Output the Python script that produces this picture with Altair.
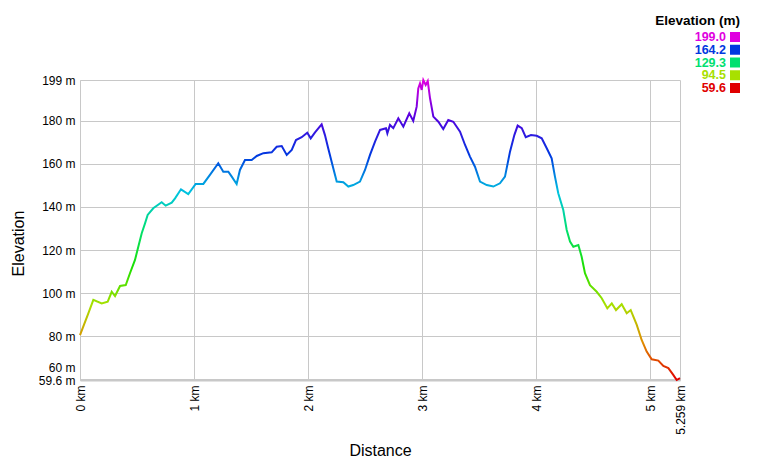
import altair as alt
import pandas as pd

# ---- data ----
distance_km = [0.000, 0.073, 0.117, 0.190, 0.243, 0.278, 0.307, 0.351, 0.401, 0.438,
               0.482, 0.511, 0.541, 0.570, 0.593, 0.642, 0.716, 0.751, 0.804, 0.833,
               0.885, 0.949, 1.014, 1.081, 1.139, 1.212, 1.256, 1.300, 1.330, 1.373,
               1.402, 1.446, 1.505, 1.549, 1.607, 1.680, 1.724, 1.768, 1.812, 1.856,
               1.893, 1.943, 1.992, 2.022, 2.060, 2.118, 2.147, 2.176, 2.220, 2.250,
               2.308, 2.352, 2.395, 2.454, 2.498, 2.542, 2.586, 2.630, 2.682, 2.694,
               2.717, 2.746, 2.790, 2.834, 2.886, 2.921, 2.951, 2.965, 2.980, 2.995,
               3.009, 3.030, 3.048, 3.068, 3.097, 3.141, 3.184, 3.228, 3.272, 3.331,
               3.375, 3.418, 3.462, 3.506, 3.565, 3.623, 3.681, 3.725, 3.769, 3.807,
               3.836, 3.872, 3.907, 3.953, 4.003, 4.047, 4.091, 4.134, 4.163, 4.192,
               4.236, 4.266, 4.295, 4.324, 4.368, 4.397, 4.426, 4.470, 4.529, 4.573,
               4.622, 4.661, 4.698, 4.748, 4.792, 4.827, 4.880, 4.923, 4.967, 5.011,
               5.069, 5.113, 5.157, 5.200, 5.230, 5.259]
elevation_m = [80.5, 90.6, 96.8, 95.2, 96.0, 100.6, 98.6, 103.3, 103.7, 109.2,
               115.4, 121.5, 127.8, 132.4, 136.3, 139.4, 142.2, 140.6, 142.0, 144.0,
               148.2, 146.0, 150.7, 150.7, 154.9, 160.3, 156.4, 156.4, 154.1, 150.7,
               157.2, 161.8, 161.8, 163.7, 165.0, 165.4, 168.0, 168.3, 164.2, 166.5,
               171.1, 172.4, 174.5, 171.9, 174.7, 178.4, 173.4, 167.2, 158.0, 151.8,
               151.5, 149.5, 150.2, 151.8, 157.2, 164.2, 170.4, 175.8, 176.6, 174.2,
               178.1, 176.6, 181.2, 177.3, 183.5, 180.0, 186.6, 195.1, 197.4, 194.4,
               199.0, 196.7, 198.5, 190.5, 182.0, 179.6, 176.2, 180.4, 179.6, 175.0,
               168.8, 163.4, 158.7, 151.8, 150.2, 149.5, 151.0, 154.1, 165.7, 173.4,
               177.8, 176.6, 172.4, 173.4, 173.1, 171.9, 167.3, 162.6, 154.1, 146.4,
               138.6, 129.3, 123.9, 121.5, 122.3, 116.9, 109.2, 103.7, 100.6, 97.6,
               92.9, 95.2, 92.1, 94.8, 90.6, 92.1, 85.2, 78.2, 72.8, 69.2,
               68.6, 66.1, 65.1, 62.0, 59.6, 60.5]
legend_values = [199.0, 164.2, 129.3, 94.5, 59.6]
legend_title = ["Elevation (m)"]
x_ticks = [0, 1, 2, 3, 4, 5, 5.259]
y_ticks = [59.6, 60, 80, 100, 120, 140, 160, 180, 199]

profile = pd.DataFrame({"km": distance_km, "elev": elevation_m})
legend_df = pd.DataFrame({"value": legend_values})
title_df = pd.DataFrame({"t": legend_title})

# ---- styling ----
FONT = "Liberation Sans"
GRID = "#c8c8c8"
stop_colors = ["#e00000", "#e08c00", "#a8e000", "#1ce000", "#00e070",
               "#00c4e0", "#0038e0", "#5400e0", "#e000e0"]
n = len(stop_colors) - 1
lo, hi = 59.6, 199.0
stop_domain = [lo + (hi - lo) * i / n for i in range(n + 1)]

gradient = alt.Gradient(
    gradient="linear",
    stops=[alt.GradientStop(offset=i / n, color=c) for i, c in enumerate(stop_colors)],
    x1=0, x2=0, y1=1, y2=0,
)

x_enc = alt.X(
    "km:Q",
    scale=alt.Scale(domain=[0, 5.259], nice=False, zero=False),
    axis=alt.Axis(
        values=x_ticks, labelExpr="datum.value + ' km'", labelAngle=-90,
        title="Distance", ticks=False, labelPadding=5, titlePadding=8,
        domainColor=GRID, domainWidth=2, gridColor=GRID, labelOverlap=False,
    ),
)
y_enc = alt.Y(
    "elev:Q",
    scale=alt.Scale(domain=[59.6, 199], nice=False, zero=False),
    axis=alt.Axis(
        values=y_ticks, labelExpr="datum.value + ' m'", title="Elevation",
        ticks=False, labelPadding=5, titlePadding=12, labelOverlap=False, titleY=163,
        labelOffset=alt.condition("datum.value == 60", alt.value(-12), alt.value(0)),
        domainColor=GRID, domainWidth=1, gridColor=GRID,
    ),
)

line = alt.Chart(profile).mark_line(stroke=gradient, strokeWidth=2).encode(x=x_enc, y=y_enc)

color_scale = alt.Scale(domain=stop_domain, range=stop_colors)
leg_y = alt.Y("value:O", sort=None, axis=None,
              scale=alt.Scale(type="point", domain=legend_values, range=[-43, 8], padding=0))

leg_sq = alt.Chart(legend_df).mark_square(size=100, opacity=1, filled=True).encode(
    x=alt.value(655), y=leg_y,
    color=alt.Color("value:Q", scale=color_scale, legend=None),
)
leg_txt = alt.Chart(legend_df).mark_text(
    align="right", baseline="middle", font=FONT, fontSize=12.5, fontWeight="bold"
).encode(
    x=alt.value(646), y=leg_y,
    text=alt.Text("value:Q", format=".1f"),
    color=alt.Color("value:Q", scale=color_scale, legend=None),
)
leg_title = alt.Chart(title_df).mark_text(
    align="right", baseline="middle", font=FONT, fontSize=13.5, fontWeight="bold", color="black"
).encode(x=alt.value(660), y=alt.value(-59), text="t:N")

chart = (
    alt.layer(line, leg_sq, leg_txt, leg_title)
    .resolve_scale(y="independent")
    .properties(width=600, height=300, padding={"left": 2, "top": 6, "right": 5, "bottom": 5})
    .configure_view(stroke=None)
    .configure_axis(
        labelFont=FONT, labelFontSize=12, labelColor="black",
        titleFont=FONT, titleFontSize=16, titleFontWeight="normal", titleColor="black",
    )
)

chart.save("out.html", embed_options={"renderer": "svg", "actions": False})
